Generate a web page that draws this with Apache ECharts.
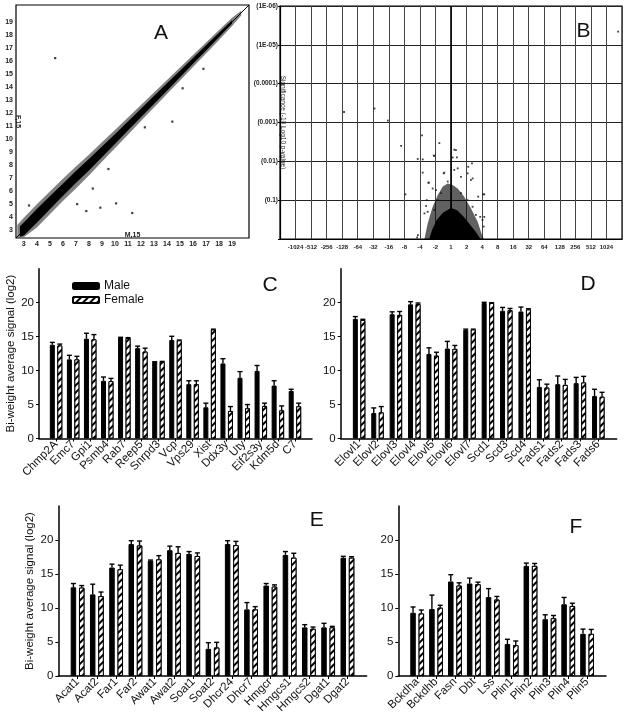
<!DOCTYPE html>
<html><head><meta charset="utf-8">
<script src="https://cdn.jsdelivr.net/npm/echarts@6/dist/echarts.min.js"></script>
<style>html,body{margin:0;padding:0;background:#fff}#c{width:625px;height:723px}</style>
</head><body><div id="c"></div><script>
// ---------- Panel A (scatter M vs F) ----------
const aTicks = [3,4,5,6,7,8,9,10,11,12,13,14,15,16,17,18,19];
const aHalo = [[2.5,3.4],[3,3.95],[4,5.0],[5,5.98],[6,6.95],[7,7.9],[8,8.8],[9,9.75],[10,10.7],[11,11.66],[12,12.62],[13,13.58],[14,14.54],[15,15.5],[16,16.46],[17,17.42],[18,18.38],[19,19.32],[19.7,19.85],
  [19.7,19.5],[19,18.68],[18,17.62],[17,16.58],[16,15.54],[15,14.5],[14,13.46],[13,12.42],[12,11.38],[11,10.34],[10,9.3],[9,8.25],[8,7.2],[7,6.2],[6,5.25],[5,4.22],[4,3.2],[3,2.45],[2.5,2.4]];
const aCore = [[2.7,3.3],[3,3.6],[4,4.62],[5,5.6],[6,6.57],[7,7.54],[8,8.47],[9,9.42],[10,10.37],[11,11.35],[12,12.32],[13,13.3],[14,14.28],[15,15.25],[16,16.22],[17,17.2],[18,18.16],[19,19.12],
  [19,18.88],[18,17.84],[17,16.8],[16,15.78],[15,14.75],[14,13.72],[13,12.7],[12,11.68],[11,10.65],[10,9.63],[9,8.6],[8,7.58],[7,6.62],[6,5.63],[5,4.6],[4,3.58],[3,2.6],[2.7,2.5]];
const aOutliers = [[5.41,16.22],[7.8,4.47],[8.88,4.73],[10.09,5.06],[11.33,4.32],[14.41,11.34],[7.1,5.0],[8.3,6.2],[3.4,4.9],[9.5,7.7],[12.3,10.9],[15.2,13.9],[16.8,15.4]];
const aDiag = [[2.4,2.4],[20.3,20.3]];

// ---------- Panel B (volcano) ----------
const bXTicks = [-10,-9,-8,-7,-6,-5,-4,-3,-2,-1,0,1,2,3,4,5,6,7,8,9,10];
const bXLabels = ['-1024','-512','-256','-128','-64','-32','-16','-8','-4','-2','1','2','4','8','16','32','64','128','256','512','1024'];
const bYLabels = ['','(0.1)','(0.01)','(0.001)','(0.0001)','(1E-05)','(1E-06)'];
const bHalo = [[-1.71,0],[-1.5,0.4],[-1.18,0.83],[-0.85,1.13],[-0.53,1.35],[-0.21,1.43],[0.11,1.39],[0.43,1.3],[0.85,1.09],[1.28,0.79],[1.71,0.45],[2.03,0.06],[2.14,0]];
const bCore = [[-1.4,0],[-1.2,0.25],[-0.9,0.5],[-0.5,0.68],[0,0.8],[0.4,0.74],[0.8,0.58],[1.2,0.38],[1.6,0.18],[1.9,0]];
const bPoints = [[10.75,5.34],[-6.88,3.27],[-4.92,3.36],[-4.06,3.05],[-3.21,2.40],[-1.86,2.67],[-0.75,2.47],
  [-2.14,2.06],[-1.82,2.05],[-1.11,2.15],[-1.07,2.14],[0.21,2.30],[0.32,2.29],[0.11,2.1],[0.38,2.1],[1.35,1.95],[1.11,1.86],
  [-1.82,1.71],[-0.47,1.69],[0.21,1.78],[0.43,1.82],[-0.21,1.48],[0.64,1.6],[1.07,1.69],[1.28,1.52],[1.39,1.56],
  [-1.45,1.45],[-1.18,1.3],[-0.96,1.26],[-2.93,1.15],[1.75,1.09],[2.14,1.15],[-1.56,1.0],[-1.6,0.85],[-1.71,0.66],[-1.5,0.7],
  [1.88,0.57],[2.03,0.49],[2.1,0.32],[-2.13,0.1],[-2.18,0.04],[1.6,0.62],[1.39,0.83],[1.07,1.0],[0.64,1.18],
  [-0.64,1.18],[-0.85,1.0],[-1.07,0.75],[2.07,1.15],[2.14,0.57],[-1.43,1.45],[-0.43,1.71]];

// ---------- Panel C ----------
const catsC = ['Chmp2A','Emc7','Gpi1','Psmb4','Rab7','Reep5','Snrpd3','Vcp','Vps29','Xist','Ddx3y','Uty','Eif2s3y','Kdm5d','C7'];
const maleC = [13.8,11.65,14.7,8.5,14.85,13.3,11.3,14.5,8.0,4.6,11.05,8.95,9.95,7.8,7.0];
const maleErrC = [0.35,0.6,0.8,0.55,0.05,0.3,0.0,0.55,0.5,0.6,0.7,0.9,0.8,0.7,0.25];
const femaleC = [13.7,11.65,14.6,8.45,14.8,12.8,11.3,14.45,8.0,16.05,4.05,4.45,4.8,4.15,4.75];
const femaleErrC = [0.2,0.45,0.7,0.4,0.05,0.5,0.05,0.05,0.5,0.05,0.65,0.55,0.4,0.65,0.45];

// ---------- Panel D ----------
const catsD = ['Elovl1','Elovl2','Elovl3','Elovl4','Elovl5','Elovl6','Elovl7','Scd1','Scd3','Scd4','Fads1','Fads2','Fads3','Fads6'];
const maleD = [17.6,3.75,18.3,19.75,12.45,13.25,16.0,19.95,18.8,18.7,7.6,8.0,8.15,6.25];
const maleErrD = [0.35,0.75,0.35,0.4,0.9,1.05,0.1,0.1,0.5,0.65,1.05,1.2,0.85,1.0];
const femaleD = [17.45,3.85,18.2,19.8,12.2,13.2,16.05,19.95,18.9,19.0,7.5,7.9,8.25,6.15];
const femaleErrD = [0.1,0.85,0.5,0.15,0.5,0.5,0.05,0.05,0.25,0.1,0.5,0.8,0.9,0.65];

// ---------- Panel E ----------
const catsE = ['Acat1','Acat2','Far1','Far2','Awat1','Awat2','Soat1','Soat2','Dhcr24','Dhcr7','Hmgcr','Hmgcs1','Hmgcs2','Dgat1','Dgat2'];
const maleE = [13.05,12.0,15.95,19.4,16.95,18.5,17.95,4.0,19.4,9.8,13.3,17.8,7.15,7.15,17.4];
const maleErrE = [0.55,1.5,0.5,0.5,0.1,0.6,0.35,0.9,0.5,1.0,0.3,0.5,0.4,0.6,0.2];
const femaleE = [13.0,11.75,15.7,19.2,17.15,18.1,17.65,4.2,19.25,9.8,13.15,17.4,6.95,7.15,17.4];
const femaleErrE = [0.3,0.6,0.6,0.65,0.55,0.9,0.45,0.75,0.55,0.4,0.25,0.65,0.25,0.15,0.15];

// ---------- Panel F ----------
const catsF = ['Bckdha','Bckdhb','Fasn','Dbt','Lss','Plin1','Plin2','Plin3','Plin4','Plin5'];
const maleF = [9.3,9.85,13.9,13.6,11.6,4.7,16.2,8.35,10.55,6.2];
const maleErrF = [0.85,2.05,1.0,0.8,1.25,0.7,0.4,0.65,1.0,0.7];
const femaleF = [9.2,10.05,13.3,13.5,11.25,4.55,16.2,8.5,10.3,6.2];
const femaleErrF = [0.5,0.35,0.4,0.3,0.45,0.6,0.35,0.4,0.4,0.65];

const yTicksBar = [0,5,10,15,20];
const yTitle = 'Bi-weight average signal (log2)';
const FONT = 'Liberation Sans, Arial, sans-serif';

const chart = echarts.init(document.getElementById('c'), null, {renderer:'canvas'});

function polySeries(xi, pts, color, opacity){
  return {type:'custom', xAxisIndex:xi, yAxisIndex:xi, data:[[pts[0][0],pts[0][1]]], silent:true,
    renderItem:function(params, api){
      const points = pts.map(p=>api.coord(p));
      return {type:'polygon', shape:{points:points}, style:{fill:color, opacity:opacity}};
    }, z:2};
}

const grids = [
  {left:16, top:5, width:233, height:233, show:true, borderColor:'#000', borderWidth:1.2},
  {left:280, top:6, width:342, height:233, show:true, borderColor:'#000', borderWidth:1.2},
  {left:39, top:268.7, width:273, height:169.8},
  {left:340.7, top:268.7, width:276, height:169.8},
  {left:58.3, top:506, width:308.4, height:170},
  {left:398.3, top:506, width:207.7, height:170}
];

const xAxes = [], yAxes = [], series = [];
// A axes
xAxes.push({gridIndex:0, type:'value', min:2.4, max:20.3, axisLine:{show:false, onZero:false}, axisTick:{show:false}, splitLine:{show:false},
  axisLabel:{customValues:aTicks, fontSize:7, fontWeight:'bold', color:'#222', fontFamily:FONT, margin:3},
  name:'M,15', nameLocation:'middle', nameGap:-6, nameMoveOverlap:false, nameTextStyle:{fontSize:7, fontWeight:'bold', color:'#222', fontFamily:FONT}});
yAxes.push({gridIndex:0, type:'value', min:2.4, max:20.3, axisLine:{show:false, onZero:false}, axisTick:{show:false}, splitLine:{show:false},
  axisLabel:{customValues:aTicks, fontSize:7, fontWeight:'bold', color:'#222', fontFamily:FONT, margin:3},
  name:'F,15', nameLocation:'middle', nameRotate:-90, nameGap:-5, nameMoveOverlap:false, nameTextStyle:{fontSize:7, fontWeight:'bold', color:'#222', fontFamily:FONT}});
// B axes
xAxes.push({gridIndex:1, type:'value', min:-11, max:11, interval:1, axisLine:{show:true, onZero:false, lineStyle:{color:'#000', width:1.2}},
  axisTick:{show:false}, splitLine:{show:true, lineStyle:{color:'#444', width:1}},
  axisLabel:{customValues:bXTicks, formatter:v=>bXLabels[v+10], hideOverlap:false, showMinLabel:true, showMaxLabel:true,
    fontSize:6, fontWeight:'bold', color:'#222', fontFamily:FONT, margin:5}});
yAxes.push({gridIndex:1, type:'value', min:0, max:6, interval:1, axisLine:{show:true, onZero:false, lineStyle:{color:'#000', width:1.2}},
  axisTick:{show:true, length:2, lineStyle:{color:'#000'}}, splitLine:{show:true, lineStyle:{color:'#222', width:1.2}},
  axisLabel:{formatter:v=>bYLabels[v], fontSize:6.5, fontWeight:'bold', color:'#222', fontFamily:FONT, margin:2},
  name:'Significance (-10 Log10 p-value)', nameLocation:'middle', nameRotate:-90, nameGap:-6, nameMoveOverlap:false,
  nameTextStyle:{fontSize:6.5, color:'#222', fontFamily:FONT}});

// A series
series.push(polySeries(0, aHalo, '#555', 0.75));
series.push(polySeries(0, aCore, '#000', 1));
series.push({type:'line', xAxisIndex:0, yAxisIndex:0, data:aDiag, symbol:'none', lineStyle:{color:'#000', width:1}, z:4, silent:true});
series.push({type:'scatter', xAxisIndex:0, yAxisIndex:0, data:aOutliers, symbol:'rect', symbolSize:2.2, itemStyle:{color:'#111'}, z:5});
// B series
series.push(polySeries(1, bHalo, '#000', 0.62));
series.push(polySeries(1, bCore, '#000', 1));
series.push({type:'line', xAxisIndex:1, yAxisIndex:1, data:[[0,0],[0,6]], symbol:'none', lineStyle:{color:'#000', width:1.6}, z:3, silent:true});
series.push({type:'scatter', xAxisIndex:1, yAxisIndex:1, data:bPoints, symbol:'rect', symbolSize:1.8, itemStyle:{color:'#111'}, z:5});

const hatch = {symbol:'rect', symbolSize:1, color:'#000', backgroundColor:'#fff', dashArrayX:[1,0], dashArrayY:[1.2,2.4], rotation:-Math.PI/4};

const panels = [
  {cats:catsC, m:maleC, me:maleErrC, f:femaleC, fe:femaleErrC, title:true, bw:5, gap:2.5},
  {cats:catsD, m:maleD, me:maleErrD, f:femaleD, fe:femaleErrD, title:false, bw:5, gap:2.5},
  {cats:catsE, m:maleE, me:maleErrE, f:femaleE, fe:femaleErrE, title:true, bw:5.5, gap:2.8},
  {cats:catsF, m:maleF, me:maleErrF, f:femaleF, fe:femaleErrF, title:false, bw:5.5, gap:2.8}
];

function errSeries(idx, vals, errs, off){
  return {type:'custom', xAxisIndex:idx, yAxisIndex:idx, z:6, silent:true,
    data: vals.map((v,i)=>[i, v, errs[i]]),
    encode:{x:0, y:1},
    renderItem:function(params, api){
      const x = api.value(0), v = api.value(1), e = api.value(2);
      const p0 = api.coord([x, v]); const p1 = api.coord([x, v + e]);
      const cx = p0[0] + off;
      return {type:'group', children:[
        {type:'line', shape:{x1:cx, y1:p0[1], x2:cx, y2:p1[1]}, style:{stroke:'#000', lineWidth:1.4}},
        {type:'line', shape:{x1:cx-2.5, y1:p1[1], x2:cx+2.5, y2:p1[1]}, style:{stroke:'#000', lineWidth:1.4}}
      ]};
    }};
}

panels.forEach((p, k)=>{
  const idx = k + 2;
  const n = p.cats.length;
  const ticks = p.cats.map((c,i)=>i);
  xAxes.push({gridIndex:idx, type:'value', min:-1, max:n, axisLine:{show:true, onZero:false, lineStyle:{color:'#000', width:1.5}},
    axisTick:{show:true, customValues:ticks, length:3, lineStyle:{color:'#000', width:1}}, splitLine:{show:false},
    axisLabel:{customValues:ticks, formatter:v=>p.cats[v], rotate:45, fontSize:11.5, color:'#111', fontFamily:FONT, margin:4}});
  yAxes.push({gridIndex:idx, type:'value', min:0, max:25, interval:5, axisLine:{show:true, onZero:false, lineStyle:{color:'#000', width:1.5}},
    axisTick:{show:true, customValues:yTicksBar, length:3, lineStyle:{color:'#000', width:1}}, splitLine:{show:false},
    axisLabel:{customValues:yTicksBar, fontSize:11.5, color:'#111', fontFamily:FONT, margin:5},
    name: p.title ? yTitle : '', nameLocation:'middle', nameGap:22, nameMoveOverlap:false, nameTextStyle:{fontSize:11.5, color:'#111', fontFamily:FONT}});
  const gapPct = (p.gap / p.bw * 100) + '%';
  series.push({type:'bar', name:'Male', xAxisIndex:idx, yAxisIndex:idx, data:p.m.map((v,i)=>[i,v]), barWidth:p.bw, barGap:gapPct,
    itemStyle:{color:'#000', borderColor:'#000', borderWidth:1}, z:3});
  series.push({type:'bar', name:'Female', xAxisIndex:idx, yAxisIndex:idx, data:p.f.map((v,i)=>[i,v]), barWidth:p.bw, barGap:gapPct,
    itemStyle:{color:'#fff', borderColor:'#000', borderWidth:1, decal:hatch}, z:3});
  const off = (p.bw + p.gap) / 2;
  series.push(errSeries(idx, p.m, p.me, -off));
  series.push(errSeries(idx, p.f, p.fe, off));
});

const letterStyle = {fontSize:21, fontFamily:FONT, fill:'#111', textAlign:'center', textVerticalAlign:'middle'};
const letters = [['A',161,33.5],['B',583.5,31.5],['C',270,285.5],['D',588,284],['E',316.7,520],['F',575.8,527]];

chart.setOption({
  animation:false,
  backgroundColor:'#fff',
  grid:grids, xAxis:xAxes, yAxis:yAxes, series:series,
  legend:{data:['Male','Female'], orient:'vertical', left:67, top:275, itemWidth:26, itemHeight:6, itemGap:2,
    textStyle:{fontSize:12, color:'#111', fontFamily:FONT}, selectedMode:false},
  graphic: letters.map(l=>({type:'text', x:l[1], y:l[2], style:Object.assign({text:l[0]}, letterStyle)}))
});
</script></body></html>
